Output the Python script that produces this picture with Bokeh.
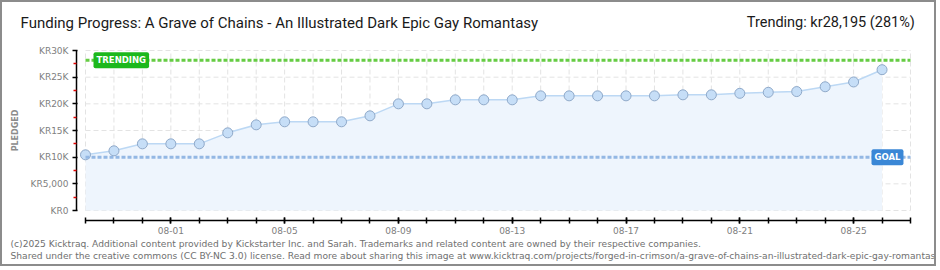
from bokeh.plotting import figure
from bokeh.models import Range1d, FixedTicker, Label, LinearAxis
from bokeh.embed import file_html
from bokeh.resources import INLINE

# ---- data ----
days = ["07-29", "07-30", "07-31", "08-01", "08-02", "08-03", "08-04", "08-05",
        "08-06", "08-07", "08-08", "08-09", "08-10", "08-11", "08-12", "08-13",
        "08-14", "08-15", "08-16", "08-17", "08-18", "08-19", "08-20", "08-21",
        "08-22", "08-23", "08-24", "08-25", "08-26", "08-27"]
pledged = [10440, 11190, 12500, 12500, 12500, 14560, 16060, 16630, 16630, 16630,
           17750, 20000, 20000, 20750, 20750, 20750, 21500, 21500, 21500, 21500,
           21500, 21690, 21690, 21970, 22160, 22300, 23200, 24100, 26400]
goal = 10000
trending = 28195
labelled_days = ["08-01", "08-05", "08-09", "08-13", "08-17", "08-21", "08-25"]
y_ticks = [0, 5000, 10000, 15000, 20000, 25000, 30000]
y_minor = [2500, 7500, 12500, 17500, 22500, 27500]
y_tick_labels = ["KR0", "KR5,000", "KR10K", "KR15K", "KR20K", "KR25K", "KR30K"]
title = "Funding Progress: A Grave of Chains - An Illustrated Dark Epic Gay Romantasy"
trend_text = "Trending:  kr28,195 (281%)"
footer1 = ("(c)2025 Kicktraq. Additional content provided by Kickstarter Inc. and Sarah. "
           "Trademarks and related content are owned by their respective companies.")
footer2 = ("Shared under the creative commons (CC BY-NC 3.0) license. Read more about sharing "
           "this image at www.kicktraq.com/projects/forged-in-crimson/"
           "a-grave-of-chains-an-illustrated-dark-epic-gay-romantasy/")

idx = list(range(len(pledged)))
day_idx = list(range(len(days)))
last_day = day_idx[-1]
y_top = y_ticks[-1]

W, H = 936, 266
# the frame covers the whole canvas; plot area is canvas x 83..908, y 48..208
px_day = 825.0 / last_day
px_unit = 160.0 / y_top
x_start = -83 / px_day
x_end = x_start + W / px_day
y_start = -(H - 208) / px_unit
y_end = y_start + H / px_unit
p = figure(width=W, height=H, output_backend="svg", toolbar_location=None,
           x_range=Range1d(x_start, x_end), y_range=Range1d(y_start, y_end),
           min_border=0, x_axis_location=None, y_axis_location=None)
p.styles = {"border": "2px solid #8c8c8c"}
p.outline_line_color = None
p.xgrid.visible = False
p.ygrid.visible = False
p.background_fill_color = "white"
p.border_fill_color = "white"

# grid (from tick lists)
p.segment(x0=day_idx, y0=[0] * len(day_idx), x1=day_idx, y1=[y_top] * len(day_idx),
          line_color="#e3e3e3", line_width=1, line_dash="5 3")
p.segment(x0=[0] * len(y_ticks), y0=y_ticks, x1=[last_day] * len(y_ticks), y1=y_ticks,
          line_color="#e3e3e3", line_width=1, line_dash="5 3")

# area, line, points
p.varea(x=idx, y1=[0] * len(idx), y2=pledged, fill_color="#eef5fd")
p.line(idx, pledged, line_color="#bcd8f4", line_width=1.5)
p.scatter(idx, pledged, size=10, fill_color="#c6def7", line_color="#8fa9c9", line_width=1)

# goal and trending lines
p.segment(x0=[0], y0=[goal], x1=[last_day], y1=[goal], line_color="#94b8e4",
          line_width=3, line_dash="4 2")
p.segment(x0=[0], y0=[trending], x1=[last_day], y1=[trending], line_color="#66cc44",
          line_width=3, line_dash="4 2")

# y axis
ya = LinearAxis(ticker=FixedTicker(ticks=y_ticks, minor_ticks=y_minor), bounds=(0, y_top),
                fixed_location=-9 / px_day)
ya.major_label_overrides = {t: l for t, l in zip(y_ticks, y_tick_labels)}
ya.axis_line_color = "black"
ya.axis_line_width = 1.5
ya.major_tick_line_color = "black"
ya.major_tick_line_width = 1.5
ya.major_tick_out = 4
ya.major_tick_in = 1
ya.minor_tick_line_color = "#e00000"
ya.minor_tick_line_width = 1.5
ya.minor_tick_out = 3
ya.minor_tick_in = 0
ya.major_label_text_font = "DejaVu Sans"
ya.major_label_text_font_size = "9px"
ya.major_label_text_color = "#808080"
ya.major_label_standoff = 4
p.add_layout(ya, "left")

# x axis
label_pos = [days.index(d) for d in labelled_days]
xa = LinearAxis(ticker=FixedTicker(ticks=label_pos, minor_ticks=day_idx), bounds=(0, last_day),
                fixed_location=-10 / px_unit)
xa.major_label_overrides = {i: days[i] for i in label_pos}
xa.axis_line_color = "black"
xa.axis_line_width = 1.5
xa.major_tick_line_color = "black"
xa.major_tick_line_width = 1.5
xa.major_tick_out = 3
xa.major_tick_in = 3
xa.minor_tick_line_color = "black"
xa.minor_tick_line_width = 1.5
xa.minor_tick_out = 3
xa.minor_tick_in = 3
xa.major_label_text_font = "DejaVu Sans"
xa.major_label_text_font_size = "9px"
xa.major_label_text_color = "#808080"
xa.major_label_standoff = 3
p.add_layout(xa, "below")

# marker labels
p.add_layout(Label(x=91, x_units="screen", y=trending, y_units="data", text="TRENDING",
                   text_font="DejaVu Sans", text_font_size="8.5px", text_font_style="bold",
                   text_color="white", text_baseline="middle", background_fill_color="#1cb81c",
                   padding=3, border_radius=2))
p.add_layout(Label(x=869, x_units="screen", y=goal, y_units="data", text="GOAL",
                   text_font="DejaVu Sans", text_font_size="8.5px", text_font_style="bold",
                   text_color="white", text_baseline="middle", background_fill_color="#3a87d6",
                   padding=3, border_radius=2))

# texts (screen units, origin bottom-left of canvas)
p.add_layout(Label(x=18, y=H - 20, x_units="screen", y_units="screen", text=title,
                   text_font="Roboto", text_font_size="15px",
                   text_color="#1a1a1a", text_baseline="middle"))
p.add_layout(Label(x=916, y=H - 20, x_units="screen", y_units="screen", text=trend_text,
                   text_font="Roboto", text_font_size="14.5px",
                   text_color="#1a1a1a", text_baseline="middle", text_align="right"))
p.add_layout(Label(x=13, y=H - 128, x_units="screen", y_units="screen", text="PLEDGED",
                   text_font="DejaVu Sans", text_font_size="8px", text_font_style="bold",
                   text_color="#8c8c8c", text_baseline="middle", text_align="center",
                   angle=1.5708))
p.add_layout(Label(x=8, y=H - 241, x_units="screen", y_units="screen", text=footer1,
                   text_font="DejaVu Sans", text_font_size="9.15px",
                   text_color="#707070", text_baseline="middle"))
p.add_layout(Label(x=8, y=H - 253, x_units="screen", y_units="screen", text=footer2,
                   text_font="DejaVu Sans", text_font_size="9.15px",
                   text_color="#707070", text_baseline="middle"))

open("out.html", "w").write(file_html(p, INLINE))
